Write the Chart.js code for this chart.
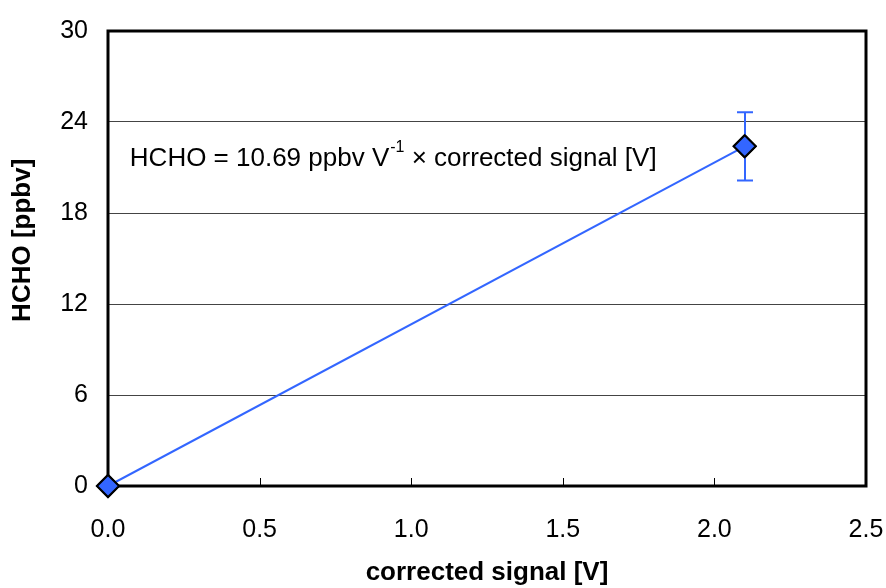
<!DOCTYPE html>
<html>
<head>
<meta charset="utf-8">
<script src="https://cdn.jsdelivr.net/npm/chart.js@4/dist/chart.umd.min.js"></script>
<style>
  html, body { margin: 0; padding: 0; background: #fff; }
  #wrap { width: 886px; height: 588px; }
</style>
</head>
<body>
<div id="wrap"><canvas id="calChart" width="886" height="588"></canvas></div>
<script>
/* HCHO calibration: signal vs mixing ratio */
const signalV   = [0.0, 2.1];
const hchoPpbv  = [0.0, 22.4];
const hchoErr   = [0.0, 2.25];
const xTicks    = [0, 0.5, 1.0, 1.5, 2.0, 2.5];
const yTicks    = [0, 6, 12, 18, 24, 30];
const fitLabel  = { x: 0.072, y: 21.6 };
const yTitle    = 'HCHO [ppbv]';

const BLUE = '#3366FF';
const FONT = '"Liberation Sans", Arial, sans-serif';
Chart.defaults.font.family = FONT;
Chart.defaults.color = '#000';

// error bars, inward x ticks, frame, y title and equation text
const extras = {
    id: 'extras',
    afterDatasetsDraw(chart) {
        const { ctx, scales: { x, y } } = chart;
        ctx.save();
        ctx.strokeStyle = BLUE;
        ctx.lineWidth = 2;
        signalV.forEach((v, i) => {
            if (!hchoErr[i]) return;
            const px = Math.round(x.getPixelForValue(v));
            const top = y.getPixelForValue(hchoPpbv[i] + hchoErr[i]);
            const bot = y.getPixelForValue(hchoPpbv[i] - hchoErr[i]);
            ctx.beginPath();
            ctx.moveTo(px, top); ctx.lineTo(px, bot);
            ctx.moveTo(px - 8, top); ctx.lineTo(px + 8, top);
            ctx.moveTo(px - 8, bot); ctx.lineTo(px + 8, bot);
            ctx.stroke();
        });
        ctx.restore();
    },
    afterDraw(chart) {
        const { ctx, chartArea: a, scales: { x, y } } = chart;
        ctx.save();
        ctx.strokeStyle = '#000';
        ctx.lineWidth = 1;
        xTicks.forEach(t => {
            const px = Math.round(x.getPixelForValue(t)) + 0.5;
            ctx.beginPath(); ctx.moveTo(px, a.bottom); ctx.lineTo(px, a.bottom - 8); ctx.stroke();
        });
        ctx.lineWidth = 3;
        ctx.strokeRect(a.left, a.top, a.right - a.left, a.bottom - a.top);

        // markers on top of the frame
        chart.getDatasetMeta(0).data.forEach(el => el.draw(ctx));

        ctx.fillStyle = '#000';
        ctx.textBaseline = 'middle';

        // y title, sits a little above the middle of the axis
        ctx.save();
        ctx.translate(23, a.top + (a.bottom - a.top) * 0.46);
        ctx.rotate(-Math.PI / 2);
        ctx.textAlign = 'center';
        ctx.font = 'bold 26px ' + FONT;
        ctx.fillText(yTitle, 0, 0);
        ctx.restore();

        ctx.font = '26px ' + FONT;
        let tx = x.getPixelForValue(fitLabel.x);
        const ty = y.getPixelForValue(fitLabel.y);
        const p1 = 'HCHO = 10.69 ppbv V';
        ctx.fillText(p1, tx, ty);
        tx += ctx.measureText(p1).width;
        ctx.font = '16px ' + FONT;
        ctx.fillText('-1', tx + 1, ty - 11);
        tx += ctx.measureText('-1').width + 1;
        ctx.font = '26px ' + FONT;
        ctx.fillText(' \u00d7 corrected signal [V]', tx, ty);
        ctx.restore();
    }
};

new Chart(document.getElementById('calChart').getContext('2d'), {
    type: 'scatter',
    data: {
        datasets: [{
            data: signalV.map((v, i) => ({ x: v, y: hchoPpbv[i] })),
            showLine: true,
            borderColor: BLUE,
            borderWidth: 2,
            backgroundColor: BLUE,
            pointStyle: 'rectRot',
            pointRadius: 11,
            pointHoverRadius: 11,
            pointBorderColor: '#000',
            pointBorderWidth: 2,
            pointBackgroundColor: BLUE,
            clip: false
        }]
    },
    options: {
        responsive: false,
        animation: false,
        events: [],
        layout: { padding: { top: 31, right: 20, left: 0, bottom: 0 } },
        plugins: { legend: { display: false }, tooltip: { enabled: false } },
        scales: {
            x: {
                type: 'linear', min: 0, max: 2.5,
                afterBuildTicks: s => { s.ticks = xTicks.map(v => ({ value: v })); },
                afterFit: s => { s.height = 102; s.paddingLeft = 0; s.paddingRight = 0; },
                grid: { display: false },
                border: { display: false },
                ticks: { font: { size: 25 }, color: '#000', padding: 21, callback: v => v.toFixed(1) },
                title: { display: true, text: 'corrected signal [V]', font: { size: 26, weight: 'bold' }, color: '#000', padding: { top: 18, bottom: 0 } }
            },
            y: {
                type: 'linear', min: 0, max: 30,
                afterBuildTicks: s => { s.ticks = yTicks.map(v => ({ value: v })); },
                afterFit: s => { s.width = 108; s.paddingTop = 0; s.paddingBottom = 0; },
                grid: { color: '#444', lineWidth: 1, drawTicks: false },
                border: { display: false },
                ticks: { font: { size: 25 }, color: '#000', padding: 20 },
                title: { display: false }
            }
        }
    },
    plugins: [extras]
});
</script>
</body>
</html>
